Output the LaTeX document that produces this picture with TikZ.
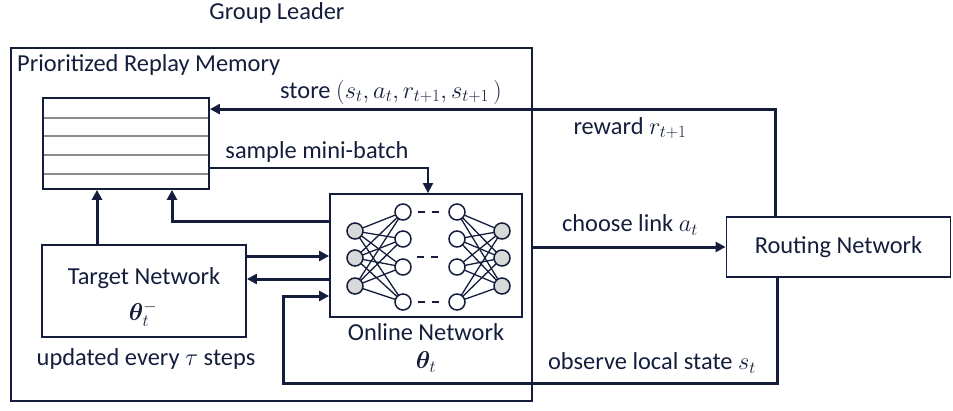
\RequirePackage{fix-cm}
\documentclass[tikz,border=0pt]{standalone}
\usepackage{amsmath,bm}
\usepackage{fontspec}
\setmainfont{Carlito}
\usetikzlibrary{arrows.meta}
\definecolor{ink}{RGB}{20,30,60}
\definecolor{rowgray}{RGB}{140,140,140}
\definecolor{nodegray}{RGB}{217,217,217}
\begin{document}
\begin{tikzpicture}[x=1pt,y=-1pt,
  txt/.style={text=ink, font=\fontsize{24.4}{28}\selectfont, inner sep=0pt},
  box/.style={draw=ink, line width=1.8pt, inner sep=0pt},
  outerbox/.style={draw=ink, line width=1.5pt, inner sep=0pt},
  heavy/.style={draw=ink, line width=3pt},
  medium/.style={draw=ink, line width=2pt},
  arr/.style={-{Triangle[length=10pt,width=10pt]}},
  row/.style={draw=rowgray, line width=2pt},
  neuron/.style={circle, draw=ink, line width=1.5pt, minimum size=16pt, inner sep=0pt, fill=white},
  io/.style={neuron, fill=nodegray},
  syn/.style={draw=ink, line width=1.3pt}]
\useasboundingbox (0,0) rectangle (953,410);

% title
\node[txt] (gl) at (277,13) {Group Leader};

% outer box
\node[outerbox, minimum width=521pt, minimum height=353pt] (outer) at (271.5,224.5) {};
\node[txt, anchor=west] (prm) at (17,65) {Prioritized Replay Memory};

% memory
\node[box, minimum width=166pt, minimum height=91pt] (mem) at (126,143.5) {};
\foreach \yy in {118,136,155,174}{
  \draw[row] (44,\yy) -- (208,\yy);
}

% target network
\node[box, minimum width=204pt, minimum height=92pt] (tn) at (144,291) {};
\node[txt] (tnl) at (144,278) {Target Network};
\node[txt] (tnt) at (143,314) {$\bm{\theta}_t^{-}$};
\node[txt] (upd) at (146,359) {updated every $\tau$ steps};

% online network
\node[box, minimum width=192pt, minimum height=123pt] (on) at (426,255.5) {};
\node[txt] (onl) at (426,332) {Online Network};
\node[txt] (ont) at (426,362) {$\bm{\theta}_t$};

% routing network
\node[box, minimum width=224pt, minimum height=60pt] (rn) at (838.5,247) {};
\node[txt] (rnl) at (838.5,247) {Routing Network};

% neural net
\foreach \i/\yy in {1/231,2/258,3/286}{
  \coordinate (ip\i) at (355,\yy);
  \coordinate (op\i) at (502,\yy);
}
\foreach \j/\yy in {1/212,2/239,3/267,4/302}{
  \coordinate (ha\j) at (403,\yy);
  \coordinate (hb\j) at (457,\yy);
}
\foreach \i in {1,2,3}{
  \foreach \j in {1,2,3,4}{
    \draw[syn] (ip\i) -- (ha\j);
    \draw[syn] (hb\j) -- (op\i);
  }
}
\foreach \i in {1,2,3}{
  \node[io] (in\i) at (ip\i) {};
  \node[io] (out\i) at (op\i) {};
}
\foreach \j in {1,2,3,4}{
  \node[neuron] (h\j) at (ha\j) {};
  \node[neuron] (k\j) at (hb\j) {};
}
\draw[syn, dash pattern=on 7pt off 7pt] (h1.east) ++(6,0) -- ++(22,0);
\draw[syn, dash pattern=on 7pt off 7pt] (417,257) -- (439,257);
\draw[syn, dash pattern=on 7pt off 7pt] (h4.east) ++(6,0) -- ++(22,0);

% store
\coordinate (rnTop) at ([xshift=50pt]rn.north west);
\coordinate (memStore) at ([yshift=-12pt]mem.north east);
\draw[heavy, arr] (rnTop) |- (memStore);
\node[txt] (storel) at (391,92) {store $(s_t, a_t, r_{t+1}, s_{t+1}\,)$};
\node[txt] (rewl) at (630,128) {reward $r_{t+1}$};

% sample mini-batch
\coordinate (memSample) at ([yshift=-24.5pt]mem.east);
\coordinate (onTop) at ([xshift=2pt]on.north);
\draw[medium, arr] (memSample) -| (onTop);
\node[txt] (sampl) at (317,152) {sample mini-batch};

% online -> memory
\coordinate (onBack) at ([yshift=34.5pt]on.west);
\coordinate (memIn2) at ([xshift=46pt]mem.south);
\draw[heavy, arr] (onBack) -| (memIn2);

% target -> memory
\coordinate (tnTop) at ([xshift=-47pt]tn.north);
\draw[heavy, arr] (tnTop) -- (tnTop |- mem.south);

% target <-> online
\coordinate (t1) at ([yshift=35pt]tn.east);
\coordinate (t2) at ([yshift=12pt]tn.east);
\draw[heavy, arr] (t1) -- (t1 -| on.west);
\draw[heavy, arr] (t2 -| on.west) -- (t2);

% choose link
\coordinate (chs) at (outer.east |- rn.west);
\draw[heavy, arr] (chs) -- (rn.west);
\node[txt] (chl) at (630,225) {choose link $a_t$};

% observe
\coordinate (rnBot) at ([xshift=52pt]rn.south west);
\coordinate (obsCorner) at (283,383);
\coordinate (onObs) at ([yshift=-40.5pt]on.west);
\draw[heavy, arr] (rnBot) |- (obsCorner) |- (onObs);
\node[txt] (obsl) at (652,363) {observe local state $s_t$};
\end{tikzpicture}
\end{document}
